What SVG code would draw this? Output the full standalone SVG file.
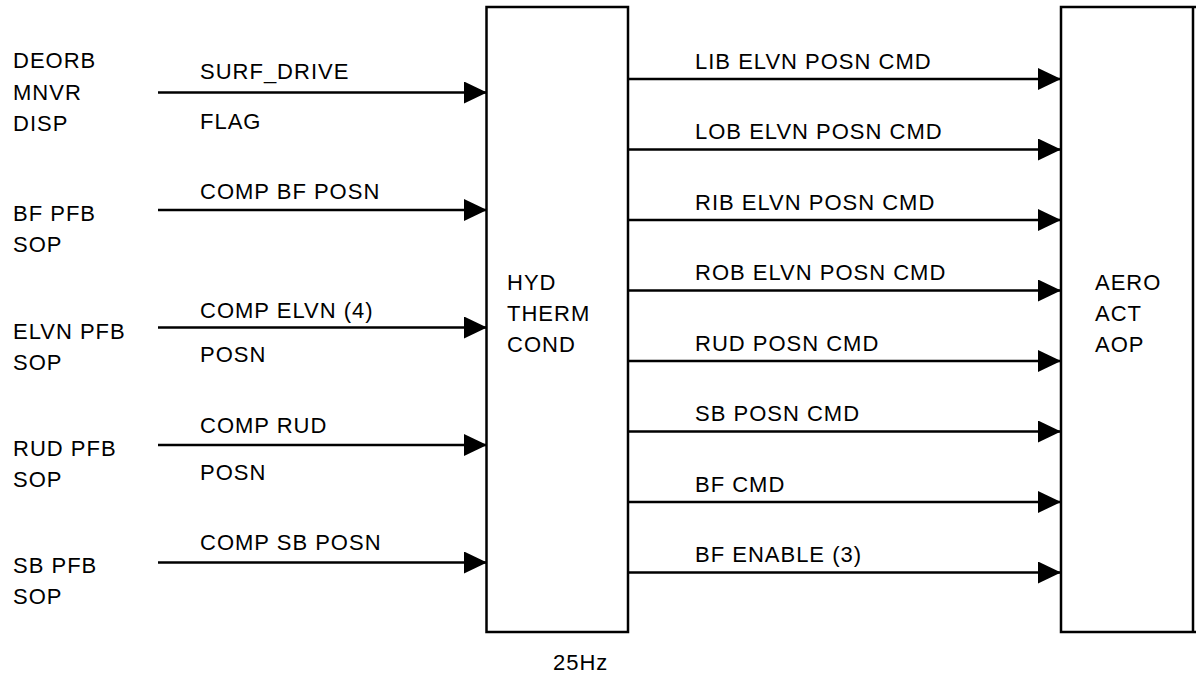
<svg xmlns="http://www.w3.org/2000/svg" width="1196" height="677" viewBox="0 0 1196 677">
<style>
text { font-family: "Liberation Sans", Arial, sans-serif; font-size: 22px; letter-spacing: 1px; fill: #000; }
.box { fill: #fff; stroke: #000; stroke-width: 2.5; }
.conn { stroke: #000; stroke-width: 2.5; fill: none; marker-end: url(#arr); }
</style>
<defs>
<marker id="arr" markerUnits="userSpaceOnUse" markerWidth="24" markerHeight="23" refX="23" refY="11" orient="auto">
<path d="M0,0 L23,11 L0,22 Z" fill="#000"/>
</marker>
</defs>
<rect width="1196" height="677" fill="#fff"/>
<g id="src-deorb"><text x="13" y="68">DEORB</text><text x="13" y="100">MNVR</text><text x="13" y="131">DISP</text></g>
<g id="src-bf"><text x="13" y="221">BF PFB</text><text x="13" y="252">SOP</text></g>
<g id="src-elvn"><text x="13" y="339">ELVN PFB</text><text x="13" y="370">SOP</text></g>
<g id="src-rud"><text x="13" y="456">RUD PFB</text><text x="13" y="487">SOP</text></g>
<g id="src-sb"><text x="13" y="573">SB PFB</text><text x="13" y="604">SOP</text></g>
<g id="hyd">
<rect class="box" x="486.5" y="7" width="141.5" height="625"/>
<text x="507" y="290">HYD</text><text x="507" y="321">THERM</text><text x="507" y="352">COND</text>
<text x="553" y="670">25Hz</text>
</g>
<g id="aero">
<path class="box" d="M1196,7 H1061 V632 H1196" fill="#fff"/>
<line x1="1193" y1="7" x2="1193" y2="632" stroke="#000" stroke-width="2.5"/>
<text x="1095" y="290">AERO</text><text x="1095" y="321">ACT</text><text x="1095" y="352">AOP</text>
</g>
<g id="connectors">
<line class="conn" x1="158" y1="92.5" x2="487" y2="92.5"/>
<line class="conn" x1="158" y1="210" x2="487" y2="210"/>
<line class="conn" x1="158" y1="327.5" x2="487" y2="327.5"/>
<line class="conn" x1="158" y1="445" x2="487" y2="445"/>
<line class="conn" x1="158" y1="562.5" x2="487" y2="562.5"/>
<line class="conn" x1="628" y1="79" x2="1061" y2="79"/>
<line class="conn" x1="628" y1="149.5" x2="1061" y2="149.5"/>
<line class="conn" x1="628" y1="220" x2="1061" y2="220"/>
<line class="conn" x1="628" y1="290.5" x2="1061" y2="290.5"/>
<line class="conn" x1="628" y1="361" x2="1061" y2="361"/>
<line class="conn" x1="628" y1="431.5" x2="1061" y2="431.5"/>
<line class="conn" x1="628" y1="502" x2="1061" y2="502"/>
<line class="conn" x1="628" y1="572.5" x2="1061" y2="572.5"/>
</g>
<g id="labels">
<text x="200" y="79">SURF_DRIVE</text><text x="200" y="129">FLAG</text>
<text x="200" y="199">COMP BF POSN</text>
<text x="200" y="318">COMP ELVN (4)</text><text x="200" y="362">POSN</text>
<text x="200" y="433">COMP RUD</text><text x="200" y="480">POSN</text>
<text x="200" y="550">COMP SB POSN</text>
<text x="695" y="68.5">LIB ELVN POSN CMD</text>
<text x="695" y="139">LOB ELVN POSN CMD</text>
<text x="695" y="209.5">RIB ELVN POSN CMD</text>
<text x="695" y="280">ROB ELVN POSN CMD</text>
<text x="695" y="350.5">RUD POSN CMD</text>
<text x="695" y="421">SB POSN CMD</text>
<text x="695" y="491.5">BF CMD</text>
<text x="695" y="562">BF ENABLE (3)</text>
</g>
</svg>
